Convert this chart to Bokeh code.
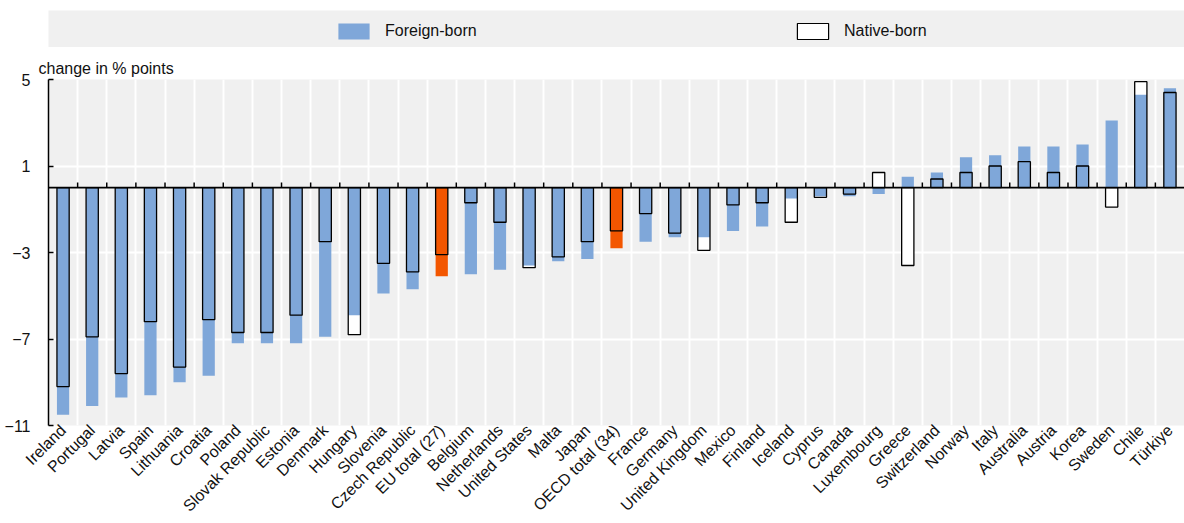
import math
from bokeh.plotting import figure
from bokeh.models import (Range1d, FixedTicker, Span, Legend, LegendItem, ColumnDataSource, Grid)
from bokeh.layouts import column
from bokeh.embed import file_html
from bokeh.resources import INLINE

countries = ["Ireland", "Portugal", "Latvia", "Spain", "Lithuania", "Croatia", "Poland",
             "Slovak Republic", "Estonia", "Denmark", "Hungary", "Slovenia", "Czech Republic",
             "EU total (27)", "Belgium", "Netherlands", "United States", "Malta", "Japan",
             "OECD total (34)", "France", "Germany", "United Kingdom", "Mexico", "Finland",
             "Iceland", "Cyprus", "Canada", "Luxembourg", "Greece", "Switzerland", "Norway",
             "Italy", "Australia", "Austria", "Korea", "Sweden", "Chile", "Türkiye"]
foreign_born = [-10.5, -10.1, -9.7, -9.6, -9.0, -8.7, -7.2, -7.2, -7.2, -6.9, -5.9, -4.9, -4.7,
                -4.1, -4.0, -3.8, -3.6, -3.4, -3.3, -2.8, -2.5, -2.3, -2.3, -2.0, -1.8, -0.5,
                -0.4, -0.4, -0.3, 0.5, 0.7, 1.4, 1.5, 1.9, 1.9, 2.0, 3.1, 4.3, 4.6]
native_born = [-9.2, -6.9, -8.6, -6.2, -8.3, -6.1, -6.7, -6.7, -5.9, -2.5, -6.8, -3.5, -3.9,
               -3.1, -0.7, -1.6, -3.7, -3.2, -2.5, -2.0, -1.2, -2.1, -2.9, -0.8, -0.7, -1.6,
               -0.45, -0.3, 0.7, -3.6, 0.4, 0.7, 1.0, 1.2, 0.7, 1.0, -0.9, 4.9, 4.4]
y_ticks = [5, 1, -3, -7, -11]

BLUE = "#7FA7D9"
ORANGE = "#F35600"
BG = "#F0F0F0"
FONT = "Liberation Sans"
FS = "16px"
TXT = "#111111"

n = len(countries)
xs = [i + 0.5 for i in range(n)]
colors = [ORANGE if "total" in c else BLUE for c in countries]
src = ColumnDataSource(dict(x=xs, fb=foreign_born, nb=native_born, color=colors))

# ---------- legend strip ----------
lf = figure(width=1184, height=47, toolbar_location=None, output_backend="svg",
            x_axis_type=None, y_axis_type=None, x_range=Range1d(0, n), y_range=Range1d(50, 51),
            min_border_left=48, min_border_right=0, min_border_top=10, min_border_bottom=0,
            background_fill_color=BG, border_fill_color="white", outline_line_color=None)
lf.xgrid.visible = False
lf.ygrid.visible = False
# legend proxies (their bars fall outside this strip's range and are never seen)
r_f = lf.vbar(x="x", top="fb", width=0.42, source=src, fill_color=BLUE, line_color=None)
r_n = lf.vbar(x="x", top="nb", width=0.42, source=src, fill_color="white",
              line_color="black", line_width=1.2)
leg = Legend(items=[LegendItem(label="Foreign-born", renderers=[r_f]),
                    LegendItem(label="Native-born", renderers=[r_n])],
             orientation="horizontal", location=(286, 6), margin=0, padding=0, spacing=0,
             glyph_width=39, glyph_height=20, label_height=20, label_standoff=12,
             label_width=408, background_fill_alpha=0, border_line_color=None,
             label_text_font=FONT, label_text_font_size=FS, label_text_color=TXT)
lf.add_layout(leg, "center")

# ---------- main plot ----------
p = figure(width=1184, height=476, toolbar_location=None, output_backend="svg",
           x_range=Range1d(0, n), y_range=Range1d(-11, 5),
           min_border_left=48, min_border_right=0, min_border_top=32, min_border_bottom=98,
           background_fill_color=BG, border_fill_color="white", outline_line_color=None,
           title="change in % points")
p.title.text_font = FONT
p.title.text_font_size = FS
p.title.text_font_style = "normal"
p.title.text_color = TXT
p.title.align = "left"
p.title.offset = -10
p.title.standoff = 5

# grids
p.xgrid.visible = False
p.ygrid.ticker = FixedTicker(ticks=y_ticks)
p.ygrid.grid_line_color = "white"
p.ygrid.grid_line_width = 2
vgrid = Grid(dimension=0, ticker=FixedTicker(ticks=list(range(1, n))),
             grid_line_color="white", grid_line_width=2)
p.add_layout(vgrid)

# bars
p.vbar(x="x", top="nb", bottom=0, width=0.42, source=src, fill_color="white", line_color=None)
p.vbar(x="x", top="fb", bottom=0, width=0.42, source=src, fill_color="color", line_color=None)
p.vbar(x="x", top="nb", bottom=0, width=0.42, source=src, fill_color=None,
       line_color="black", line_width=1.3)

# zero line and its ticks at category boundaries
p.add_layout(Span(location=0, dimension="width", line_color="black", line_width=1.6))
bounds = list(range(1, n))
p.segment(x0=bounds, y0=[0] * len(bounds), x1=bounds, y1=[0.24] * len(bounds),
          line_color="black", line_width=1.5)

# y axis
p.yaxis.ticker = FixedTicker(ticks=y_ticks)
p.yaxis.axis_line_color = "black"
p.yaxis.axis_line_width = 1.5
p.yaxis.major_tick_line_color = "black"
p.yaxis.major_tick_line_width = 1.5
p.yaxis.major_tick_in = 5
p.yaxis.major_tick_out = 0
p.yaxis.minor_tick_line_color = None
p.yaxis.major_label_standoff = 18
p.yaxis.major_label_text_font = FONT
p.yaxis.major_label_text_font_size = FS
p.yaxis.major_label_text_color = TXT

# x axis
p.xaxis.ticker = FixedTicker(ticks=xs)
p.xaxis.major_label_overrides = {x: c for x, c in zip(xs, countries)}
p.xaxis.major_label_orientation = math.pi / 4
p.xaxis.axis_line_color = None
p.xaxis.major_tick_line_color = None
p.xaxis.major_tick_in = 0
p.xaxis.major_tick_out = 0
p.xaxis.minor_tick_line_color = None
p.xaxis.major_label_standoff = 2
p.xaxis.major_label_text_font = FONT
p.xaxis.major_label_text_font_size = FS
p.xaxis.major_label_text_color = TXT

layout = column(lf, p, spacing=0)
open("out.html", "w").write(file_html(layout, INLINE))
